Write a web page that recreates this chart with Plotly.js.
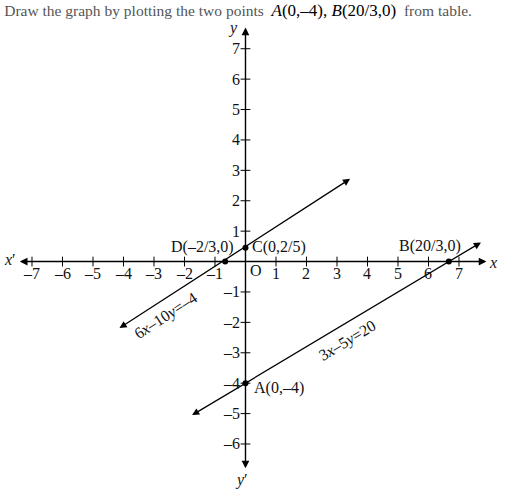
<!DOCTYPE html>
<html><head><meta charset="utf-8">
<script src="https://cdn.plot.ly/plotly-3.0.1.min.js"></script>
<style>html,body{margin:0;padding:0;background:#fff}</style>
</head><body><div id="chart" style="width:526px;height:489px"></div>
<script>
// ---- data ----
const xTickVals = [-7,-6,-5,-4,-3,-2,-1,1,2,3,4,5,6,7];
const xTickText = ["–7","–6","–5","–4","–3","–2","–1","1","2","3","4","5","6","7"];
const yTickVals = [-6,-5,-4,-3,-2,-1,1,2,3,4,5,6,7];
const yTickText = ["–6","–5","–4","–3","–2","–1","1","2","3","4","5","6","7"];

// line 3x-5y=20 (end points of the drawn segment)
const line1X = [-1.8, 7.72];
const line1Y = [-5.08, 0.63];
// line 6x-10y=-4 (end points of the drawn segment)
const line2X = [-4.18, 3.43];
const line2Y = [-2.22, 2.72];

// marked points A, B, C, D
const ptNames = ["A","B","C","D"];
const ptX = [0, 20/3, 0, -2/3];
const ptY = [-4, 0, 0.45, 0];

// axes extents (arrow tips)
const xAxisEnds = [-7.45, 7.9];
const yAxisEnds = [-6.85, 7.7];

// ---- layout ----
const xRange = [-7.59, 8.115];
const yRange = [-7.02, 7.78];
const serif = "Liberation Serif, Times New Roman, serif";
const xZeroPos = (0 - yRange[0]) / (yRange[1] - yRange[0]);
const yZeroPos = (0 - xRange[0]) / (xRange[1] - xRange[0]);
const txtFont = {family: serif, size: 16, color: '#111'};

const traces = [
  {x: xTickVals, y: xTickVals.map(() => 0), mode: 'markers', type: 'scatter',
   marker: {symbol: 'line-ns-open', size: 7, color: '#000', line: {width: 1, color: '#000'}},
   hoverinfo: 'skip', cliponaxis: false},
  {x: yTickVals.map(() => 0), y: yTickVals, mode: 'markers', type: 'scatter',
   marker: {symbol: 'line-ew-open', size: 7, color: '#000', line: {width: 1, color: '#000'}},
   hoverinfo: 'skip', cliponaxis: false},
  {x: ptX, y: ptY, text: ptNames, mode: 'markers', type: 'scatter',
   marker: {size: 6, color: '#000'}, hoverinfo: 'text', cliponaxis: false}
];

function arrowLine(x0, y0, x1, y1, w) {
  return {x: x1, y: y1, ax: x0, ay: y0, xref: 'x', yref: 'y', axref: 'x', ayref: 'y',
    text: '', showarrow: true, arrowhead: 2, arrowside: 'end+start', arrowsize: 1.1,
    arrowwidth: w, arrowcolor: '#000', standoff: 0, startstandoff: 0};
}
function lbl(text, x, y, xa, extra) {
  return Object.assign({text: text, x: x, y: y, xref: 'x', yref: 'y', showarrow: false,
    xanchor: xa || 'center', yanchor: 'middle', font: txtFont}, extra || {});
}

const annotations = [
  arrowLine(xAxisEnds[0], 0, xAxisEnds[1], 0, 1.4),
  arrowLine(0, yAxisEnds[0], 0, yAxisEnds[1], 1.4),
  arrowLine(line1X[0], line1Y[0], line1X[1], line1Y[1], 1.3),
  arrowLine(line2X[0], line2Y[0], line2X[1], line2Y[1], 1.3),
  lbl("D(–2/3,0)", -0.3, 0.48, 'right'),
  lbl("C(0,2/5)", 0.15, 0.48, 'left'),
  lbl("B(20/3,0)", 6.05, 0.5, 'center'),
  lbl("A(0,–4)", 0.2, -4.16, 'left'),
  lbl("O", 0.34, -0.3, 'center'),
  lbl("6<i>x</i>–10<i>y</i>=–4", -2.62, -1.78, 'center', {textangle: -33}),
  lbl("3<i>x</i>–5<i>y</i>=20", 3.33, -2.62, 'center', {textangle: -31}),
  {text: "<i>x</i>′", xref: 'paper', yref: 'paper', x: -0.008, y: xZeroPos + 0.005, xanchor: 'center', yanchor: 'middle',
   showarrow: false, font: txtFont},
  {text: "<i>x</i>", xref: 'paper', yref: 'paper', x: 1.0, y: xZeroPos - 0.003, xanchor: 'center', yanchor: 'middle',
   showarrow: false, font: txtFont},
  {text: "<i>y</i>", xref: 'paper', yref: 'paper', x: yZeroPos - 0.026, y: 0.994, xanchor: 'center', yanchor: 'middle',
   showarrow: false, font: txtFont},
  {text: "<i>y</i>′", xref: 'paper', yref: 'paper', x: yZeroPos - 0.008, y: -0.012, xanchor: 'center', yanchor: 'middle',
   showarrow: false, font: txtFont}
];
// tick labels
xTickVals.forEach((v, i) => annotations.push({text: xTickText[i], x: v, y: 0, xref: 'x', yref: 'y',
  showarrow: false, xanchor: 'center', yanchor: 'top', yshift: -1, font: txtFont}));
yTickVals.forEach((v, i) => annotations.push({text: yTickText[i], x: 0, y: v, xref: 'x', yref: 'y',
  showarrow: false, xanchor: 'right', yanchor: 'middle', xshift: -3, font: txtFont}));

const layout = {
  width: 526, height: 489,
  margin: {l: 14, r: 33, t: 25, b: 14},
  paper_bgcolor: '#fff', plot_bgcolor: '#fff',
  showlegend: false,
  title: {
    text: "Draw the graph by plotting the two points  <span style='color:#000;font-size:17px'><i>A</i>(0,–4), <i>B</i>(20/3,0)</span>  from table.",
    xref: 'container', yref: 'container', x: 0.008, xanchor: 'left', y: 0.978, yanchor: 'middle',
    font: {family: serif, size: 15.5, color: '#555'}
  },
  xaxis: {range: xRange, showgrid: false, zeroline: false, showline: false, ticks: '',
    showticklabels: false, fixedrange: true},
  yaxis: {range: yRange, showgrid: false, zeroline: false, showline: false, ticks: '',
    showticklabels: false, fixedrange: true},
  annotations: annotations
};

Plotly.newPlot('chart', traces, layout, {displayModeBar: false, staticPlot: true});
</script>
</body></html>
